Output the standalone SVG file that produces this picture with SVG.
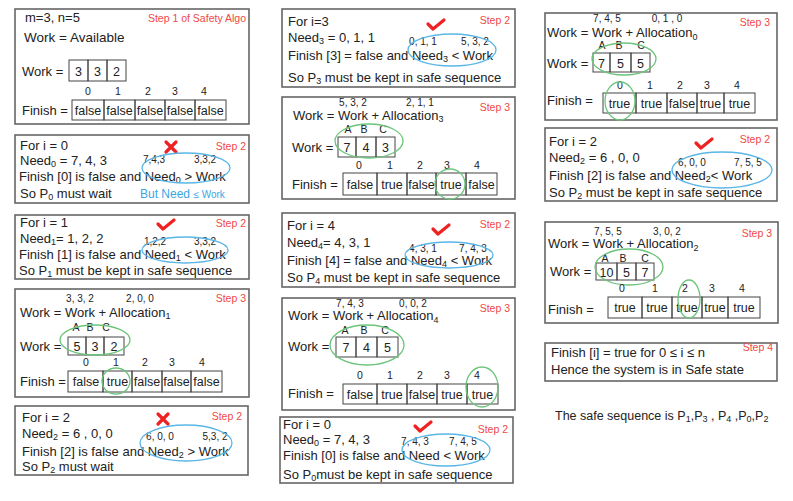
<svg xmlns="http://www.w3.org/2000/svg" xmlns:xlink="http://www.w3.org/1999/xlink" width="793" height="501" viewBox="0 0 793 501">
<style>
text{font-family:"Liberation Sans",Arial,sans-serif;fill:#222;font-size:13px}
.box{fill:#fff;stroke:#666;stroke-width:1.6}
.cell{fill:none;stroke:#444;stroke-width:1}
.c{text-anchor:middle;font-size:12.5px}
.s{font-size:10px;text-anchor:middle}
.idx{font-size:10.5px;text-anchor:middle}
.step{fill:#f04848;font-size:10.5px;text-anchor:end}
.sub{font-size:9px}
.be{fill:none;stroke:#5ab6e6;stroke-width:1.3}
.ge{fill:none;stroke:#6cc47a;stroke-width:1.3}
.blue{fill:#3aa6e4}
.mark{fill:none;stroke:#e22;stroke-width:3.2;stroke-linecap:round;stroke-linejoin:round}
</style>
<defs>
<g id="chk"><path class="mark" d="M-8,0 L-3,5 L8,-4"/></g>
<g id="cross"><path class="mark" d="M-5,-5 L5,5 M5,-5 L-5,5"/></g>
</defs>
<rect width="793" height="501" fill="#fff"/>

<g id="box1">
<rect class="box" x="15" y="9" width="234" height="115"/>
<text x="25" y="22">m=3, n=5</text>
<text class="step" x="246" y="22">Step 1 of Safety Algo</text>
<text x="24" y="42" style="font-size:13.5px">Work = Available</text>
<text x="22" y="76">Work =</text>
<rect class="cell" x="69" y="60" width="19" height="21"/><rect class="cell" x="88" y="60" width="19" height="21"/><rect class="cell" x="107" y="60" width="19" height="21"/>
<text class="c" x="78.5" y="76">3</text><text class="c" x="97.5" y="76">3</text><text class="c" x="116.5" y="76">2</text>
<text class="idx" x="88" y="95">0</text><text class="idx" x="118" y="95">1</text><text class="idx" x="148" y="95">2</text><text class="idx" x="175" y="95">3</text><text class="idx" x="204" y="95">4</text>
<text x="22" y="115">Finish =</text>
<rect class="cell" x="72" y="100" width="32" height="20"/><rect class="cell" x="104" y="100" width="31" height="20"/><rect class="cell" x="135" y="100" width="30" height="20"/><rect class="cell" x="165" y="100" width="30" height="20"/><rect class="cell" x="195" y="100" width="31" height="20"/>
<text class="c" x="88" y="115">false</text><text class="c" x="119.5" y="115">false</text><text class="c" x="150" y="115">false</text><text class="c" x="180" y="115">false</text><text class="c" x="210.5" y="115">false</text>
</g>

<g id="box2">
<rect class="box" x="15" y="135" width="234" height="68"/>
<text x="20" y="150">For i = 0</text>
<text class="step" x="246" y="150">Step 2</text>
<text x="20" y="165">Need<tspan class="sub" dy="2">0</tspan><tspan dy="-2"> = 7, 4, 3</tspan></text>
<text x="19" y="181">Finish [0] is false and Need<tspan class="sub" dy="2">0</tspan><tspan dy="-2"> &gt; Work</tspan></text>
<text x="20" y="198">So P<tspan class="sub" dy="2">0</tspan><tspan dy="-2">  must wait</tspan></text>
<text class="s" x="154" y="163">7,4,3</text><text class="s" x="205" y="163">3,3,2</text>
<use xlink:href="#cross" x="171" y="147"/>
<ellipse class="be" cx="186" cy="168" rx="44" ry="15"/>
<text class="blue" x="140" y="198" style="font-size:12px">But Need <tspan style="font-size:10px">≤ Work</tspan></text>
</g>

<g id="box3">
<rect class="box" x="15" y="215" width="234" height="64"/>
<text x="20" y="227">For i = 1</text>
<text class="step" x="246" y="227">Step 2</text>
<text x="20" y="243">Need<tspan class="sub" dy="2">1</tspan><tspan dy="-2">= 1, 2, 2</tspan></text>
<text x="19" y="259">Finish [1] is false and Need<tspan class="sub" dy="2">1</tspan><tspan dy="-2"> &lt; Work</tspan></text>
<text x="19" y="275">So P<tspan class="sub" dy="2">1</tspan><tspan dy="-2"> must be kept in safe sequence</tspan></text>
<text class="s" x="155" y="245">1,2,2</text><text class="s" x="205" y="245">3,3,2</text>
<use xlink:href="#chk" x="166" y="224"/>
<ellipse class="be" cx="185" cy="250" rx="43" ry="13"/>
</g>

<g id="box4">
<rect class="box" x="15" y="289" width="234" height="108"/>
<text class="s" x="80" y="302">3, 3, 2</text><text class="s" x="140" y="302">2, 0, 0</text>
<text class="step" x="246" y="302">Step 3</text>
<text x="20" y="317">Work = Work + Allocation<tspan class="sub" dy="2">1</tspan></text>
<text class="idx" x="76" y="331">A</text><text class="idx" x="90" y="331">B</text><text class="idx" x="106" y="331">C</text>
<text x="20" y="351">Work =</text>
<rect class="cell" x="68" y="337" width="18" height="18"/><rect class="cell" x="86" y="337" width="18" height="18"/><rect class="cell" x="104" y="337" width="20" height="18"/>
<text class="c" x="77" y="351">5</text><text class="c" x="95" y="351">3</text><text class="c" x="114" y="351">2</text>
<ellipse class="ge" cx="95" cy="340" rx="35" ry="15"/>
<text class="idx" x="86" y="366">0</text><text class="idx" x="116" y="366">1</text><text class="idx" x="145" y="366">2</text><text class="idx" x="172" y="366">3</text><text class="idx" x="202" y="366">4</text>
<text x="20" y="386">Finish =</text>
<rect class="cell" x="68" y="371" width="35" height="21"/><rect class="cell" x="103" y="371" width="29" height="21"/><rect class="cell" x="132" y="371" width="30" height="21"/><rect class="cell" x="162" y="371" width="29" height="21"/><rect class="cell" x="191" y="371" width="31" height="21"/>
<text class="c" x="86" y="386">false</text><text class="c" x="117.5" y="386">true</text><text class="c" x="147" y="386">false</text><text class="c" x="176.5" y="386">false</text><text class="c" x="206.5" y="386">false</text>
<ellipse class="ge" cx="116" cy="381" rx="14" ry="13"/>
</g>

<g id="box5">
<rect class="box" x="15" y="406" width="233" height="69"/>
<text x="22" y="422">For i = 2</text>
<text class="step" x="242" y="420">Step 2</text>
<text x="22" y="438">Need<tspan class="sub" dy="2">2</tspan><tspan dy="-2"> = 6 , 0, 0</tspan></text>
<text x="22" y="456">Finish [2] is false and Need<tspan class="sub" dy="2">2</tspan><tspan dy="-2"> &gt;  Work</tspan></text>
<text x="22" y="471">So P<tspan class="sub" dy="2">2</tspan><tspan dy="-2">  must wait</tspan></text>
<text class="s" x="160" y="440">6, 0, 0</text><text class="s" x="215" y="440">5,3, 2</text>
<use xlink:href="#cross" x="163" y="419"/>
<ellipse class="be" cx="186" cy="443" rx="46" ry="18"/>
</g>

<g id="box6">
<rect class="box" x="282" y="9" width="233" height="78"/>
<text x="288" y="26">For i=3</text>
<text class="step" x="510" y="24">Step 2</text>
<text x="288" y="42">Need<tspan class="sub" dy="2">3</tspan><tspan dy="-2"> = 0, 1, 1</tspan></text>
<text x="288" y="60">Finish [3] = false and Need<tspan class="sub" dy="2">3</tspan><tspan dy="-2"> &lt; Work</tspan></text>
<text x="288" y="82">So P<tspan class="sub" dy="2">3</tspan><tspan dy="-2"> must be kept in safe sequence</tspan></text>
<text class="s" x="423" y="45">0, 1, 1</text><text class="s" x="475" y="45">5, 3, 2</text>
<use xlink:href="#chk" x="436" y="24"/>
<ellipse class="be" cx="452" cy="50" rx="44" ry="16"/>
</g>

<g id="box7">
<rect class="box" x="282" y="97" width="233" height="102"/>
<text class="s" x="353" y="106">5, 3, 2</text><text class="s" x="420" y="106">2, 1, 1</text>
<text class="step" x="510" y="111">Step 3</text>
<text x="293" y="120">Work = Work + Allocation<tspan class="sub" dy="2">3</tspan></text>
<text class="idx" x="348" y="133">A</text><text class="idx" x="364" y="133">B</text><text class="idx" x="383" y="133">C</text>
<text x="292" y="152">Work =</text>
<rect class="cell" x="338" y="137" width="18" height="20"/><rect class="cell" x="356" y="137" width="20" height="20"/><rect class="cell" x="376" y="137" width="19" height="20"/>
<text class="c" x="347" y="152">7</text><text class="c" x="366" y="152">4</text><text class="c" x="385.5" y="152">3</text>
<ellipse class="ge" cx="369" cy="141" rx="34" ry="17"/>
<text class="idx" x="359" y="169">0</text><text class="idx" x="390" y="169">1</text><text class="idx" x="420" y="169">2</text><text class="idx" x="447" y="169">3</text><text class="idx" x="477" y="169">4</text>
<text x="292" y="189">Finish =</text>
<rect class="cell" x="343" y="173" width="34" height="22"/><rect class="cell" x="377" y="173" width="30" height="22"/><rect class="cell" x="407" y="173" width="29" height="22"/><rect class="cell" x="436" y="173" width="30" height="22"/><rect class="cell" x="466" y="173" width="31" height="22"/>
<text class="c" x="360" y="189">false</text><text class="c" x="392" y="189">true</text><text class="c" x="421.5" y="189">false</text><text class="c" x="451" y="189">true</text><text class="c" x="481.5" y="189">false</text>
<ellipse class="ge" cx="450" cy="184" rx="15" ry="15"/>
</g>

<g id="box8">
<rect class="box" x="282" y="213" width="233" height="74"/>
<text x="287" y="230">For i = 4</text>
<text class="step" x="510" y="228">Step 2</text>
<text x="287" y="247">Need<tspan class="sub" dy="2">4</tspan><tspan dy="-2">= 4, 3, 1</tspan></text>
<text x="287" y="265">Finish [4] = false and Need<tspan class="sub" dy="2">4</tspan><tspan dy="-2"> &lt; Work</tspan></text>
<text x="287" y="282">So P<tspan class="sub" dy="2">4</tspan><tspan dy="-2"> must be kept in safe sequence</tspan></text>
<text class="s" x="423" y="252">4, 3, 1</text><text class="s" x="473" y="252">7, 4, 3</text>
<use xlink:href="#chk" x="441" y="229"/>
<ellipse class="be" cx="449" cy="255" rx="44" ry="13"/>
</g>

<g id="box9">
<rect class="box" x="282" y="298" width="233" height="112"/>
<text class="s" x="350" y="307">7, 4, 3</text><text class="s" x="413" y="307">0, 0, 2</text>
<text class="step" x="510" y="312">Step 3</text>
<text x="288" y="320">Work = Work + Allocation<tspan class="sub" dy="3">4</tspan></text>
<text class="idx" x="345" y="334">A</text><text class="idx" x="364" y="334">B</text><text class="idx" x="385" y="334">C</text>
<text x="288" y="351">Work =</text>
<rect class="cell" x="336" y="337" width="20" height="20"/><rect class="cell" x="356" y="337" width="21" height="20"/><rect class="cell" x="377" y="337" width="21" height="20"/>
<text class="c" x="346" y="352">7</text><text class="c" x="366.5" y="352">4</text><text class="c" x="387.5" y="352">5</text>
<ellipse class="ge" cx="367" cy="345" rx="37" ry="20"/>
<text class="idx" x="360" y="379">0</text><text class="idx" x="390" y="379">1</text><text class="idx" x="420" y="379">2</text><text class="idx" x="447" y="379">3</text><text class="idx" x="477" y="379">4</text>
<text x="288" y="398">Finish =</text>
<rect class="cell" x="343" y="384" width="34" height="20"/><rect class="cell" x="377" y="384" width="30" height="20"/><rect class="cell" x="407" y="384" width="30" height="20"/><rect class="cell" x="437" y="384" width="30" height="20"/><rect class="cell" x="467" y="384" width="31" height="20"/>
<text class="c" x="360" y="399">false</text><text class="c" x="392" y="399">true</text><text class="c" x="422" y="399">false</text><text class="c" x="452" y="399">true</text><text class="c" x="482.5" y="399">true</text>
<ellipse class="ge" cx="482" cy="387" rx="16" ry="20"/>
</g>

<g id="box10">
<rect class="box" x="280" y="417" width="233" height="66"/>
<text x="283" y="429">For i = 0</text>
<text class="step" x="508" y="433">Step 2</text>
<text x="283" y="444">Need<tspan class="sub" dy="2">0</tspan><tspan dy="-2"> = 7, 4, 3</tspan></text>
<text x="283" y="460">Finish [0] is false and Need  &lt; Work</text>
<text x="283" y="479">So P<tspan class="sub" dy="2">0</tspan><tspan dy="-2">must be kept in safe sequence</tspan></text>
<text class="s" x="415" y="445">7, 4, 3</text><text class="s" x="463" y="445">7, 4, 5</text>
<use xlink:href="#chk" x="423" y="426"/>
<ellipse class="be" cx="446" cy="450" rx="44" ry="16"/>
</g>

<g id="box11">
<rect class="box" x="545" y="13" width="232" height="107"/>
<text class="s" x="607" y="22">7, 4, 5</text><text class="s" x="667" y="22">0, 1 , 0</text>
<text class="step" x="770" y="26">Step 3</text>
<text x="547" y="37">Work = Work + Allocation<tspan class="sub" dy="3">0</tspan></text>
<text class="idx" x="602" y="49">A</text><text class="idx" x="619" y="49">B</text><text class="idx" x="641" y="49">C</text>
<text x="547" y="68">Work =</text>
<rect class="cell" x="593" y="53" width="17" height="19"/><rect class="cell" x="610" y="53" width="21" height="19"/><rect class="cell" x="631" y="53" width="19" height="19"/>
<text class="c" x="601.5" y="68">7</text><text class="c" x="620.5" y="68">5</text><text class="c" x="640.5" y="68">5</text>
<ellipse class="ge" cx="624" cy="59" rx="32" ry="16"/>
<text class="idx" x="620" y="89">0</text><text class="idx" x="650" y="89">1</text><text class="idx" x="680" y="89">2</text><text class="idx" x="707" y="89">3</text><text class="idx" x="737" y="89">4</text>
<text x="547" y="105">Finish =</text>
<rect class="cell" x="603" y="93" width="33" height="20"/><rect class="cell" x="636" y="93" width="31" height="20"/><rect class="cell" x="667" y="93" width="30" height="20"/><rect class="cell" x="697" y="93" width="27" height="20"/><rect class="cell" x="724" y="93" width="31" height="20"/>
<text class="c" x="619.5" y="108">true</text><text class="c" x="651.5" y="108">true</text><text class="c" x="682" y="108">false</text><text class="c" x="710.5" y="108">true</text><text class="c" x="739.5" y="108">true</text>
<ellipse class="ge" cx="620" cy="101" rx="15" ry="19"/>
</g>

<g id="box12">
<rect class="box" x="545" y="128" width="232" height="73"/>
<text x="549" y="146">For i = 2</text>
<text class="step" x="770" y="143">Step 2</text>
<text x="549" y="162">Need<tspan class="sub" dy="2">2</tspan><tspan dy="-2"> = 6 , 0, 0</tspan></text>
<text x="549" y="180">Finish [2] is false and  Need<tspan class="sub" dy="2">2</tspan><tspan dy="-2">&lt; Work</tspan></text>
<text x="549" y="197">So P<tspan class="sub" dy="2">2</tspan><tspan dy="-2"> must be kept in safe sequence</tspan></text>
<text class="s" x="692" y="166">6, 0, 0</text><text class="s" x="748" y="166">7, 5, 5</text>
<use xlink:href="#chk" x="704" y="143"/>
<ellipse class="be" cx="722" cy="170" rx="50" ry="18"/>
</g>

<g id="box13">
<rect class="box" x="545" y="222" width="233" height="101"/>
<text class="s" x="608" y="235">7, 5, 5</text><text class="s" x="667" y="235">3, 0, 2</text>
<text class="step" x="772" y="237">Step 3</text>
<text x="548" y="248">Work = Work + Allocation<tspan class="sub" dy="3">2</tspan></text>
<text class="idx" x="605" y="262">A</text><text class="idx" x="623" y="262">B</text><text class="idx" x="645" y="262">C</text>
<text x="550" y="276">Work =</text>
<rect class="cell" x="596" y="263" width="21" height="17"/><rect class="cell" x="617" y="263" width="19" height="17"/><rect class="cell" x="636" y="263" width="18" height="17"/>
<text class="c" x="606.5" y="277">10</text><text class="c" x="626.5" y="277">5</text><text class="c" x="645" y="277">7</text>
<ellipse class="ge" cx="629" cy="267" rx="34" ry="18"/>
<text class="idx" x="622" y="292">0</text><text class="idx" x="655" y="292">1</text><text class="idx" x="685" y="292">2</text><text class="idx" x="712" y="292">3</text><text class="idx" x="742" y="292">4</text>
<text x="548" y="314">Finish =</text>
<rect class="cell" x="608" y="297" width="34" height="21"/><rect class="cell" x="642" y="297" width="30" height="21"/><rect class="cell" x="672" y="297" width="30" height="21"/><rect class="cell" x="702" y="297" width="26" height="21"/><rect class="cell" x="728" y="297" width="32" height="21"/>
<text class="c" x="625" y="312">true</text><text class="c" x="657" y="312">true</text><text class="c" x="687" y="312">true</text><text class="c" x="715" y="312">true</text><text class="c" x="744" y="312">true</text>
<ellipse class="ge" cx="689" cy="299" rx="11" ry="19"/>
</g>

<g id="box14">
<rect class="box" x="545" y="343" width="232" height="38"/>
<text x="551" y="357">Finish [i] = true for 0 ≤ i  ≤ n</text>
<text x="551" y="374">Hence the system is in Safe state</text>
<text class="step" x="773" y="351">Step 4</text>
</g>

<g id="result">
<text x="555" y="420" style="font-size:12.5px">The safe sequence is P<tspan class="sub" dy="2">1</tspan><tspan dy="-2">,P</tspan><tspan class="sub" dy="2">3</tspan><tspan dy="-2"> , P</tspan><tspan class="sub" dy="2">4</tspan><tspan dy="-2"> ,P</tspan><tspan class="sub" dy="2">0</tspan><tspan dy="-2">,P</tspan><tspan class="sub" dy="2">2</tspan></text>
</g>
</svg>
